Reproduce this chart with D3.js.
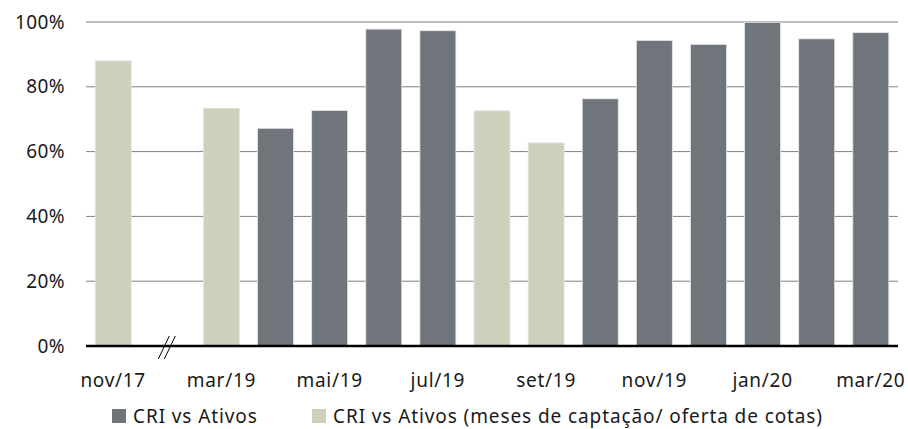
<!DOCTYPE html>
<html><head><meta charset="utf-8">
<script src="https://cdn.jsdelivr.net/npm/d3@7"></script>
<style>body{margin:0;background:#fff}svg{display:block}</style>
</head><body><svg id="c" width="908" height="429"></svg>
<script>
const categories = ["nov/17","","mar/19","abr/19","mai/19","jun/19","jul/19","ago/19","set/19","out/19","nov/19","dez/19","jan/20","fev/20","mar/20"];
const seriesA = [null,null,null,0.672,0.727,0.978,0.973,null,null,0.763,0.943,0.931,0.999,0.948,0.967]; // CRI vs Ativos
const seriesB = [0.880,null,0.734,null,null,null,null,0.726,0.627,null,null,null,null,null,null]; // meses de captação
const tickLabels = ["nov/17","mar/19","mai/19","jul/19","set/19","nov/19","jan/20","mar/20"];
const yTicks = [0,0.2,0.4,0.6,0.8,1.0];
const seriesNames = ["CRI vs Ativos","CRI vs Ativos (meses de captação/ oferta de cotas)"];
const colors = ["#6f757b","#ccd1bb"];

const svg = d3.select("#c");
const font = "'Noto Sans', sans-serif";
const x = d3.scaleBand().domain(categories.map((d,i)=>i)).range([86,898]).paddingInner(0.335).paddingOuter(0.17);
const y = d3.scaleLinear().domain([0,1]).range([346,22]);

// gridlines
svg.append("g").selectAll("line").data(yTicks.filter(d=>d>0)).join("line")
  .attr("x1",86).attr("x2",898).attr("y1",d=>y(d)).attr("y2",d=>y(d))
  .attr("stroke","#7f7f7f").attr("stroke-width",1);

// y labels
svg.append("g").selectAll("text").data(yTicks).join("text")
  .attr("x",65).attr("y",d=>y(d)).attr("dy","0.35em").attr("text-anchor","end")
  .attr("font-family",font).attr("font-size",19).attr("letter-spacing",0.4).attr("fill","#1a1a1a")
  .text(d=>d3.format(".0%")(d));

// bars
[seriesA,seriesB].forEach((s,k)=>{
  svg.append("g").selectAll("rect").data(s.map((v,i)=>({v,i})).filter(d=>d.v!=null)).join("rect")
    .attr("x",d=>x(d.i)).attr("width",x.bandwidth())
    .attr("y",d=>y(d.v)).attr("height",d=>y(0)-y(d.v))
    .attr("fill",colors[k]).attr("stroke","#e4e6e8").attr("stroke-width",0.8);
});

// x axis line
svg.append("line").attr("x1",86).attr("x2",898).attr("y1",y(0)).attr("y2",y(0))
  .attr("stroke","#000").attr("stroke-width",2.5);

// break marks
const bx = x(1)+x.bandwidth()/2;
[-3,3].forEach(o=>{
  svg.append("line").attr("x1",bx+o-6).attr("y1",y(0)+13).attr("x2",bx+o+5).attr("y2",y(0)-10)
    .attr("stroke","#000").attr("stroke-width",1);
});

// x labels
svg.append("g").selectAll("text").data(tickLabels).join("text")
  .attr("x",d=>x(categories.indexOf(d))+x.bandwidth()/2).attr("y",387)
  .attr("text-anchor","middle").attr("font-family",font).attr("font-size",19).attr("letter-spacing",0.7).attr("fill","#1a1a1a")
  .text(d=>d);

// legend
const lx = [112,312];
seriesNames.forEach((n,k)=>{
  svg.append("rect").attr("x",lx[k]).attr("y",409).attr("width",14).attr("height",14).attr("fill",colors[k]);
  svg.append("text").attr("x",lx[k]+21).attr("y",423).attr("font-family",font).attr("font-size",19)
    .attr("letter-spacing",0.9).attr("fill","#1a1a1a").text(n);
});
</script></body></html>
